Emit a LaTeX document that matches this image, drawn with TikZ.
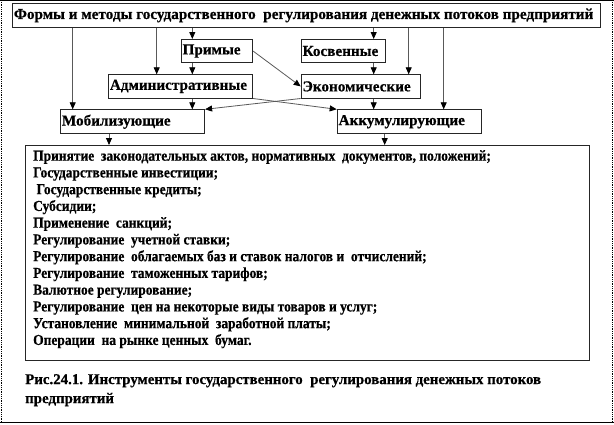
\documentclass[tikz,border=0pt]{standalone}
\usepackage{fontspec}
\setmainfont{Liberation Serif}
\newfontfamily\tmsfont[BoldFeatures={FakeBold=0.5}]{Liberation Serif}
\newfontfamily\listfont[FakeStretch=0.885,BoldFeatures={FakeBold=0.5}]{Liberation Serif}
\usetikzlibrary{arrows.meta}
\newcommand{\boxtxt}[2]{\makebox[#1pt][l]{#2}}
\begin{document}
\begin{tikzpicture}[x=1pt,y=-1pt,
  font=\tmsfont\fontsize{15.2}{16.75}\selectfont\bfseries,
  box/.style={draw=black!85, line width=0.8pt, inner xsep=1.5pt, inner ysep=0pt, anchor=north west, fill=white},
  arr/.style={draw=black!65, line width=0.8pt, -{Triangle[length=7pt,width=6pt,color=black]}},
  plain/.style={inner sep=0pt, anchor=north west, align=left}]
\useasboundingbox (0,0) rectangle (614,424);
% outer frame
\draw[line width=0.8pt] (0,0.5) -- (614,0.5);
\draw[line width=1pt] (0,422.6) -- (614,422.6);
\draw[line width=0.8pt, densely dotted] (1.7,0) -- (1.7,422.6);
\draw[line width=0.8pt, densely dotted] (612.6,0) -- (612.6,422.6);
% boxes
\node[box, minimum height=24pt] (top) at (12,3) {\boxtxt{585}{Формы и методы государственного\ \ регулирования денежных потоков предприятий}};
\node[box, minimum height=23.3pt] (pr) at (180.7,39) {\boxtxt{68.6}{Примые}};
\node[box, minimum height=23.3pt] (kos) at (300.7,39) {\boxtxt{81}{Косвенные}};
\node[box, minimum height=23.4pt] (adm) at (108,74.3) {\boxtxt{141.3}{Административные}};
\node[box, minimum height=23.4pt] (eko) at (300.7,74.3) {\boxtxt{116.3}{Экономические}};
\node[box, minimum height=24pt] (mob) at (60,109.3) {\boxtxt{141.3}{Мобилизующие}};
\node[box, minimum height=24pt] (akk) at (336.7,109.3) {\boxtxt{141.3}{Аккумулирующие}};
\node[box, minimum height=215pt] (big) at (24.5,145) {\boxtxt{561.5}{}};
\node[plain, font=\listfont\fontsize{15.2}{16.75}\selectfont\bfseries] (list) at (33,150) {Принятие\ \ законодательных актов, нормативных\ \ документов, положений;\\
Государственные инвестиции;\\
\ Государственные кредиты;\\
Субсидии;\\
Применение\ \ санкций;\\
Регулирование\ \ учетной ставки;\\
Регулирование\ \ облагаемых баз и ставок налогов и\ \ отчислений;\\
Регулирование\ \ таможенных тарифов;\\
Валютное регулирование;\\
Регулирование\ \ цен на некоторые виды товаров и услуг;\\
Установление\ \ минимальной\ \ заработной платы;\\
Операции\ \ на рынке ценных\ \ бумаг.};
\node[plain, font=\tmsfont\fontsize{14.9}{19}\selectfont\bfseries] (cap) at (25,374) {Рис.24.1. Инструменты государственного\ \ регулирования денежных потоков\\предприятий};
% connectors
\draw[arr] (72.7,0 |- top.south) -- (72.7,0 |- mob.north);
\draw[arr] (156.7,0 |- top.south) -- (156.7,0 |- adm.north);
\draw[arr] (192.3,0 |- top.south) -- (192.3,0 |- pr.north);
\draw[arr] (373.7,0 |- top.south) -- (373.7,0 |- kos.north);
\draw[arr] (408.7,0 |- top.south) -- (408.7,0 |- eko.north);
\draw[arr] (443.7,0 |- top.south) -- (443.7,0 |- akk.north);
\draw[arr] (192.3,0 |- pr.south) -- (192.3,0 |- adm.north);
\draw[arr] (373.7,0 |- kos.south) -- (373.7,0 |- eko.north);
\draw[arr] (pr.east) -- (eko.west);
\draw[arr] (192.3,0 |- adm.south) -- (192.3,0 |- mob.north);
\draw[arr] (373.7,0 |- eko.south) -- (373.7,0 |- akk.north);
\draw[arr] (adm.south east) -- (akk.north west);
\draw[arr] (eko.south west) -- (mob.north east);
\draw[arr] (109,0 |- mob.south) -- (109,0 |- big.north);
\draw[arr] (384.7,0 |- akk.south) -- (384.7,0 |- big.north);
\end{tikzpicture}
\end{document}
